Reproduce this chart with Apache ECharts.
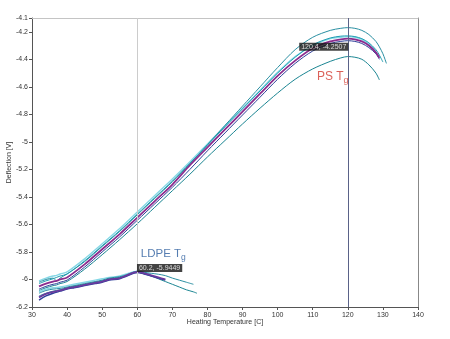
<!DOCTYPE html>
<html>
<head>
<meta charset="utf-8">
<script src="https://cdn.jsdelivr.net/npm/echarts@6/dist/echarts.min.js"></script>
<style>
  html, body { margin: 0; padding: 0; background: #fff; }
  #chart { width: 450px; height: 339px; }
</style>
</head>
<body>
<div id="chart"></div>
<script>
// Heating temperature (C) sample points for the PS runs
const psTemp = [32, 34, 36, 37, 38, 40, 45, 50, 55, 60, 65, 70, 75, 80, 85, 90, 95, 100, 105, 110, 115, 118, 120, 122, 124, 126, 128, 129, 130, 131];

// Deflection (V) of the PS runs
const psMain  = [-6.05, -6.03, -6.015, -6.01, -6.00, -5.985, -5.89, -5.78, -5.67, -5.55, -5.43, -5.31, -5.17, -5.04, -4.91, -4.78, -4.65, -4.52, -4.41, -4.32, -4.27, -4.255, -4.25, -4.255, -4.27, -4.30, -4.35, -4.39, null, null];
const psTop   = [-6.02, -6.00, -5.99, -6.01, -5.99, -5.96, -5.87, -5.76, -5.65, -5.53, -5.41, -5.29, -5.16, -5.02, -4.88, -4.74, -4.60, -4.46, -4.33, -4.24, -4.19, -4.175, -4.17, -4.175, -4.19, -4.22, -4.27, -4.31, -4.36, -4.43];
const psTeal  = [-6.03, -6.01, -5.995, -5.985, -5.975, -5.96, -5.865, -5.755, -5.645, -5.525, -5.405, -5.285, -5.155, -5.025, -4.89, -4.76, -4.63, -4.50, -4.385, -4.295, -4.245, -4.232, -4.23, -4.235, -4.25, -4.28, -4.33, -4.37, -4.42, null];
const psCyan  = [-6.01, -5.99, -5.975, -5.97, -5.96, -5.945, -5.85, -5.74, -5.63, -5.51, -5.39, -5.27, -5.145, -5.015, -4.885, -4.755, -4.625, -4.495, -4.38, -4.30, -4.25, -4.24, -4.235, -4.24, -4.255, -4.29, -4.34, null, null, null];
const psBlue  = [-6.07, -6.05, -6.035, -6.03, -6.02, -6.005, -5.91, -5.80, -5.69, -5.57, -5.45, -5.33, -5.20, -5.065, -4.935, -4.805, -4.675, -4.545, -4.43, -4.34, -4.285, -4.27, -4.265, -4.27, -4.285, -4.315, -4.36, -4.40, null, null];
const psLow   = [-6.08, -6.06, -6.045, -6.04, -6.03, -6.015, -5.925, -5.82, -5.71, -5.595, -5.475, -5.355, -5.235, -5.11, -4.99, -4.87, -4.755, -4.645, -4.545, -4.47, -4.415, -4.39, -4.38, -4.385, -4.40, -4.44, -4.50, -4.55, null, null];

// Heating temperature (C) sample points for the LDPE runs
const ldpeTemp = [32, 34, 36, 38, 40, 42, 45, 48, 50, 52, 55, 57, 60, 62, 64, 66, 68, 70, 72, 74, 76, 77];

// Deflection (V) of the LDPE runs
const ldpeMain    = [-6.13, -6.105, -6.09, -6.08, -6.065, -6.055, -6.04, -6.025, -6.015, -6.00, -5.99, -5.97, -5.945, -5.955, -5.97, -5.985, -6.00, null, null, null, null, null];
const ldpeBlue    = [-6.15, -6.12, -6.10, -6.085, -6.07, -6.06, -6.045, -6.03, -6.02, -6.005, -5.995, -5.975, -5.95, -5.96, -5.975, -5.99, -6.005, null, null, null, null, null];
const ldpeTealUp  = [-6.10, -6.08, -6.07, -6.065, -6.055, -6.045, -6.03, -6.015, -6.005, -5.99, -5.98, -5.965, -5.94, -5.948, -5.955, -5.962, -5.972, -5.99, -6.005, -6.02, -6.035, null];
const ldpeTealLow = [-6.12, -6.10, -6.085, -6.075, -6.06, -6.05, -6.035, -6.02, -6.01, -5.995, -5.985, -5.97, -5.948, -5.96, -5.975, -5.995, -6.015, -6.035, -6.055, -6.075, -6.09, -6.10];
const ldpeCyan    = [-6.09, -6.07, -6.06, -6.055, -6.045, -6.035, -6.02, -6.005, -5.995, -5.985, -5.975, -5.96, -5.94, -5.95, -5.965, null, null, null, null, null, null, null];

// Cursor readouts (temperature, deflection)
const psReadout = [120.4, -4.2507];
const ldpeReadout = [60.2, -5.9449];

// Axis ranges
const xRange = { min: 30, max: 140, step: 10 };
const yRange = { min: -6.2, max: -4.1, step: 0.2 };

const FONT = 'Liberation Sans, Arial, sans-serif';

function pairs(xs, ys) {
  const out = [];
  xs.forEach((x, i) => { if (ys[i] !== null && ys[i] !== undefined) out.push([x, ys[i]]); });
  return out;
}

function curve(xs, ys, color, width) {
  return {
    type: 'line',
    data: pairs(xs, ys),
    smooth: 0.3,
    symbol: 'none',
    silent: true,
    lineStyle: { color: color, width: width },
    z: 3
  };
}

function tgLabel(main, color, size) {
  return {
    formatter: '{a|' + main + '}{b|g}',
    rich: {
      a: { color: color, fontSize: size, fontFamily: FONT },
      b: { color: color, fontSize: size - 3, fontFamily: FONT, padding: [7, 0, 0, 0] }
    }
  };
}

const series = [
  curve(psTemp, psCyan, '#86d8e6', 1.4),
  curve(psTemp, psTop, '#2a8fa2', 1),
  curve(psTemp, psTeal, '#1f9db2', 1),
  curve(psTemp, psLow, '#1a8592', 1),
  curve(psTemp, psBlue, '#2e3f99', 1),
  curve(psTemp, psMain, '#8b2c8e', 1.8),
  curve(ldpeTemp, ldpeCyan, '#86d8e6', 1.4),
  curve(ldpeTemp, ldpeTealUp, '#2a8fa2', 1),
  curve(ldpeTemp, ldpeTealLow, '#1a8592', 1),
  curve(ldpeTemp, ldpeBlue, '#2e3f99', 1.4),
  curve(ldpeTemp, ldpeMain, '#6a3a9e', 1.8),
  // cursor lines
  {
    type: 'line',
    data: [],
    silent: true,
    markLine: {
      symbol: 'none',
      silent: true,
      label: { show: false },
      data: [
        { xAxis: ldpeReadout[0] - 0.2, lineStyle: { color: '#cccccc', width: 1, type: 'solid' } },
        { xAxis: psReadout[0] - 0.4, lineStyle: { color: '#5a6288', width: 1, type: 'solid' } }
      ]
    },
    z: 1
  },
  // cursor readout boxes
  {
    type: 'scatter',
    symbolSize: 0,
    silent: true,
    z: 10,
    data: [
      { value: psReadout, label: { position: [-50, 4] } },
      { value: ldpeReadout, label: { position: [-1, -8] } }
    ],
    label: {
      show: true,
      formatter: p => p.value[0] + ', ' + p.value[1],
      fontFamily: FONT,
      fontSize: 7,
      color: '#ffffff',
      backgroundColor: '#141414',
      padding: [1, 2, 0, 2]
    }
  },
  // transition annotations
  {
    type: 'scatter',
    symbolSize: 0,
    silent: true,
    z: 10,
    data: [
      { value: [111.2, -4.53], label: tgLabel('PS T', '#d23a30', 12) },
      { value: [61.0, -5.815], label: tgLabel('LDPE T', '#2b5c9e', 11.5) }
    ],
    label: { show: true, position: 'right', distance: 0 }
  }
];

const chart = echarts.init(document.getElementById('chart'), null, { renderer: 'canvas' });
chart.setOption({
  animation: false,
  backgroundColor: '#ffffff',
  grid: { left: 32, right: 32, top: 18, bottom: 32, containLabel: false, outerBoundsMode: 'none' },
  xAxis: [
    {
      type: 'value',
      min: xRange.min, max: xRange.max, interval: xRange.step,
      name: 'Heating Temperature [C]',
      nameLocation: 'middle',
      nameGap: 12,
      nameMoveOverlap: false,
      nameTextStyle: { fontFamily: FONT, fontSize: 7, color: '#333' },
      axisLine: { show: true, lineStyle: { color: '#555', width: 1 } },
      axisTick: { show: true, length: 3, lineStyle: { color: '#555' } },
      axisLabel: { fontFamily: FONT, fontSize: 7, color: '#333', margin: 5 },
      splitLine: { show: false }
    },
    {
      type: 'value', position: 'top',
      min: xRange.min, max: xRange.max,
      axisLine: { show: true, lineStyle: { color: '#c4c4c4', width: 1 } },
      axisTick: { show: false }, axisLabel: { show: false }, splitLine: { show: false }
    }
  ],
  yAxis: [
    {
      type: 'value',
      min: yRange.min, max: yRange.max, interval: yRange.step,
      name: 'Deflection [V]',
      nameLocation: 'middle',
      nameGap: 19,
      nameRotate: 90,
      nameMoveOverlap: false,
      nameTextStyle: { fontFamily: FONT, fontSize: 7, color: '#333' },
      axisLine: { show: true, lineStyle: { color: '#555', width: 1 } },
      axisTick: { show: true, length: 3, lineStyle: { color: '#555' } },
      axisLabel: { fontFamily: FONT, fontSize: 7, color: '#333', margin: 4, showMaxLabel: true },
      splitLine: { show: false }
    },
    {
      type: 'value', position: 'right',
      min: yRange.min, max: yRange.max,
      axisLine: { show: true, lineStyle: { color: '#888', width: 1 } },
      axisTick: { show: false }, axisLabel: { show: false }, splitLine: { show: false }
    }
  ],
  series: series
});
</script>
</body>
</html>
